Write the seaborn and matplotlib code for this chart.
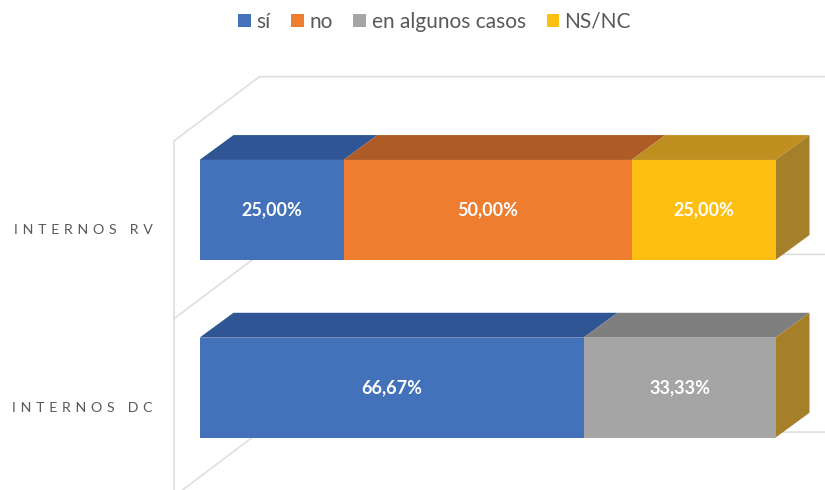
import matplotlib
matplotlib.use("Agg")
import matplotlib.pyplot as plt
import seaborn as sns
from matplotlib.patches import Polygon
from matplotlib.lines import Line2D
from matplotlib.transforms import ScaledTranslation

categories = ["INTERNOS RV", "INTERNOS DC"]
series_names = ["sí", "no", "en algunos casos", "NS/NC"]
si = [25.00, 66.67]
no = [50.00, 0.0]
en_algunos = [0.0, 33.33]
ns_nc = [25.00, 0.0]
series_values = [si, no, en_algunos, ns_nc]

face_colors = ["#4472BA", "#EE7D30", "#A5A5A5", "#FDBF12"]
top_colors = ["#2F5595", "#AE5B25", "#7F7F7F", "#BF8F20"]
side_color = "#A67F2A"
wall_color = "#DCDCDC"
text_gray = "#595959"
font = "Lato"

W, H = 825, 490
sns.set_theme(style="white")
plt.rcParams["font.family"] = [font, "DejaVu Sans"]

fig = plt.figure(figsize=(W / 100, H / 100), dpi=100)
ax = fig.add_axes([199.5 / W, 1 - 476.5 / H, 576 / W, 355.4 / H])

DEPTH_X, DEPTH_Y = 5.9, 0.14
left = [0.0] * len(categories)
containers = []
for name, vals, col in zip(series_names, series_values, face_colors):
    sns.barplot(x=vals, y=categories, orient="h", color=col, saturation=1,
                width=0.5627, left=left, label=name, linewidth=0, ax=ax, zorder=3)
    containers.append(ax.containers[-1])
    left = [a + b for a, b in zip(left, vals)]
if ax.get_legend() is not None:
    ax.get_legend().remove()

ax.set_xlim(0, 100)
ax.set_ylim(1.5, -0.5)

# 3-D depth faces, derived from the drawn bars
for k, (cont, top) in enumerate(zip(containers, top_colors)):
    for rect in cont:
        x0, y0, w = rect.get_x(), rect.get_y(), rect.get_width()
        ax.add_patch(Polygon([(x0, y0), (x0 + w, y0),
                              (x0 + w + DEPTH_X, y0 - DEPTH_Y), (x0 + DEPTH_X, y0 - DEPTH_Y)],
                             closed=True, fc=top, ec="none", zorder=2, clip_on=False))
        if k == len(containers) - 1:
            h = rect.get_height()
            ax.add_patch(Polygon([(x0 + w, y0), (x0 + w + DEPTH_X, y0 - DEPTH_Y),
                                  (x0 + w + DEPTH_X, y0 + h - DEPTH_Y), (x0 + w, y0 + h)],
                                 closed=True, fc=side_color, ec="none", zorder=2, clip_on=False))

# chart walls
WALL_FRONT_X, WALL_BACK_X, WALL_RIGHT_X = -4.43, 10.4, 110
for b in (-0.5, 0.5, 1.5):
    ax.add_line(Line2D([WALL_FRONT_X, WALL_BACK_X, WALL_RIGHT_X],
                       [b + 0.112, b - 0.25, b - 0.25],
                       color=wall_color, lw=1.1, clip_on=False, zorder=1))
ax.add_line(Line2D([WALL_FRONT_X, WALL_FRONT_X], [-0.5 + 0.112, 1.7],
                   color=wall_color, lw=1.1, clip_on=False, zorder=1))

# value labels
for cont, vals in zip(containers, series_values):
    labels = [f"{v:.2f}".replace(".", ",") + "%" if v > 0 else "" for v in vals]
    ax.bar_label(cont, labels=labels, label_type="center", color="white",
                 fontweight="bold", fontsize=13, zorder=5)

sns.despine(ax=ax, left=True, bottom=True)
ax.xaxis.set_visible(False)
ax.set_ylabel("")
ax.tick_params(axis="y", length=0, pad=33.5)
ax.set_yticks(range(len(categories)))
ax.set_yticklabels(["\u2004".join(c) for c in categories], fontsize=10.2, color=text_gray)
for lab in ax.get_yticklabels():
    lab.set_transform(lab.get_transform() + ScaledTranslation(0, -19.5 / 100, fig.dpi_scale_trans))

handles = [c for c in containers]
leg = fig.legend(handles, series_names, loc="center", bbox_to_anchor=(434.5 / W, 1 - 22 / H),
                 ncol=4, frameon=False, fontsize=15, handlelength=0.62, handleheight=0.62,
                 handletextpad=0.25, columnspacing=1.0, borderpad=0, labelcolor=text_gray)

fig.savefig("out.png", dpi=100)
